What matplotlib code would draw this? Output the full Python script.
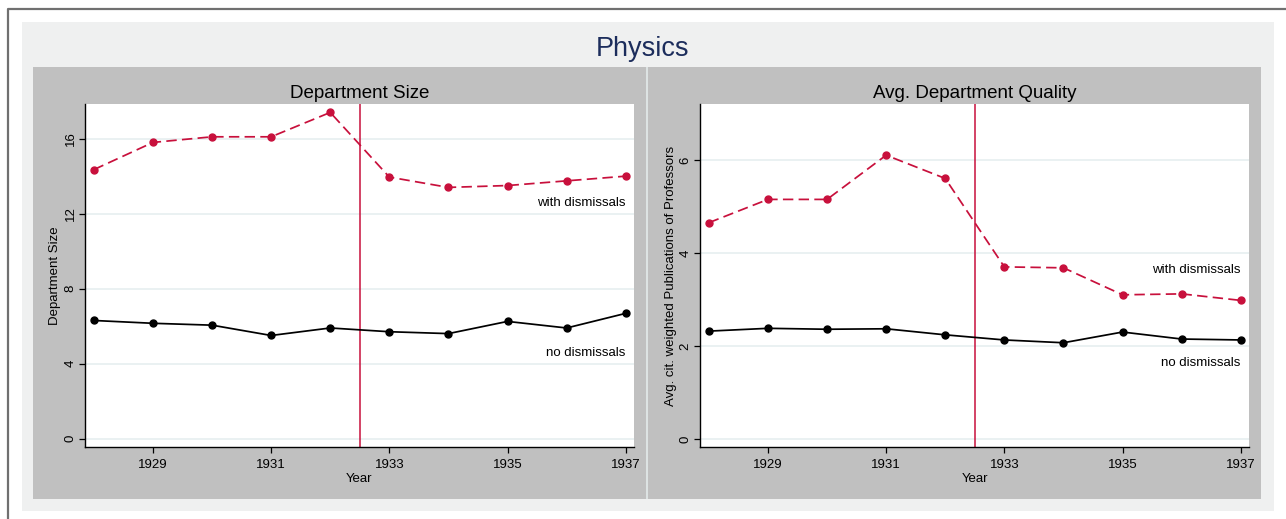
import matplotlib
matplotlib.use("Agg")
import matplotlib.pyplot as plt
from matplotlib.patches import Rectangle
from matplotlib.lines import Line2D

plt.rcParams['font.family'] = ['Liberation Sans', 'DejaVu Sans']
plt.rcParams['lines.scale_dashes'] = False

years = [1928, 1929, 1930, 1931, 1932, 1933, 1934, 1935, 1936, 1937]
size_with = [14.35, 15.8, 16.1, 16.1, 17.4, 13.95, 13.4, 13.5, 13.75, 14.0]
size_without = [6.3, 6.15, 6.05, 5.5, 5.9, 5.7, 5.6, 6.25, 5.9, 6.68]
qual_with = [4.65, 5.15, 5.15, 6.1, 5.6, 3.7, 3.68, 3.1, 3.12, 2.98]
qual_without = [2.32, 2.38, 2.36, 2.37, 2.24, 2.13, 2.07, 2.3, 2.15, 2.13]
xticks = [1929, 1931, 1933, 1935, 1937]
size_yticks = [0, 4, 8, 12, 16]
qual_yticks = [0, 2, 4, 6]
cutoff = 1932.5

W, H = 1286, 519
fig = plt.figure(figsize=(W / 100, H / 100), dpi=100)
fig.patch.set_facecolor('white')

def rect_px(x0, y0, x1, y1, z, **kw):
    fig.patches.append(Rectangle((x0 / W, 1 - y1 / H), (x1 - x0) / W, (y1 - y0) / H,
                                 transform=fig.transFigure, figure=fig, zorder=z, **kw))

def ax_px(x0, y0, x1, y1):
    return fig.add_axes([x0 / W, 1 - y1 / H, (x1 - x0) / W, (y1 - y0) / H])

# backgrounds
rect_px(22, 22, 1274, 511, -3, facecolor='#eff0f0', edgecolor='none')
rect_px(33, 67, 645.5, 499, -2, facecolor='#c0c0c0', edgecolor='none')
rect_px(648, 67, 1261, 499, -2, facecolor='#c0c0c0', edgecolor='none')
rect_px(645.5, 67, 648, 499, -2, facecolor='#dde3e3', edgecolor='none')
# outer border (left and top)
fig.lines.append(Line2D([7.5 / W, 7.5 / W, 1.0], [0.0, 1 - 9 / H, 1 - 9 / H],
                        transform=fig.transFigure, color='#707070', lw=1.6, zorder=-1))

fig.text(643 / W, 1 - 48.5 / H, 'Physics', ha='center', va='center',
         fontsize=19.5, color='#1c2d5c')

red = '#c8103c'

def panel(ax, yw, yn, yticks, ylim, ylabel, title, lab_with, lab_no, ylab_x):
    ax.set_facecolor('white')
    ax.plot(years, yw, color=red, lw=1.25, ls=(0, (7.5, 3.8)), marker='o', ms=5,
            zorder=3)
    ax.plot(years, yn, color='black', lw=1.25, marker='o', ms=5, zorder=3)
    ax.axvline(cutoff, color=red, lw=1.1, zorder=2)
    ax.set_xlim(1927.85, 1937.14)
    ax.set_ylim(*ylim)
    ax.set_xticks(xticks)
    ax.set_yticks(yticks)
    ax.set_yticklabels([str(t) for t in yticks], rotation=90, va='center')
    ax.grid(axis='y', color='#e6eff0', lw=1.2)
    ax.set_axisbelow(True)
    for s in ['top', 'right']:
        ax.spines[s].set_visible(False)
    for s in ['left', 'bottom']:
        ax.spines[s].set_linewidth(1.0)
        ax.spines[s].set_color('black')
    ax.tick_params(axis='both', length=4.5, width=0.9, labelsize=9.5)
    ax.tick_params(axis='x', pad=4)
    ax.tick_params(axis='y', pad=1.5)
    ax.set_xlabel('Year', fontsize=9.5, labelpad=1.5)
    ax.set_ylabel(ylabel, fontsize=9.5)
    ax.yaxis.label.set_va('center')
    ax.yaxis.set_label_coords(ylab_x, 0.5)
    ax.set_title(title, fontsize=13.5, pad=4)
    ax.text(1937, lab_with, 'with dismissals', ha='right', va='center', fontsize=9.5)
    ax.text(1937, lab_no, 'no dismissals', ha='right', va='center', fontsize=9.5)

ax1 = ax_px(85, 104, 634, 447)
panel(ax1, size_with, size_without, size_yticks, (-0.45, 17.85),
      'Department Size', 'Department Size', 12.59, 4.59, (55 - 85) / 549)
ax2 = ax_px(700, 104, 1249, 447)
panel(ax2, qual_with, qual_without, qual_yticks, (-0.17, 7.2),
      'Avg. cit. weighted Publications of Professors', 'Avg. Department Quality',
      3.63, 1.63, (671 - 700) / 549)

fig.savefig('out.png', dpi=100, facecolor=fig.get_facecolor())
